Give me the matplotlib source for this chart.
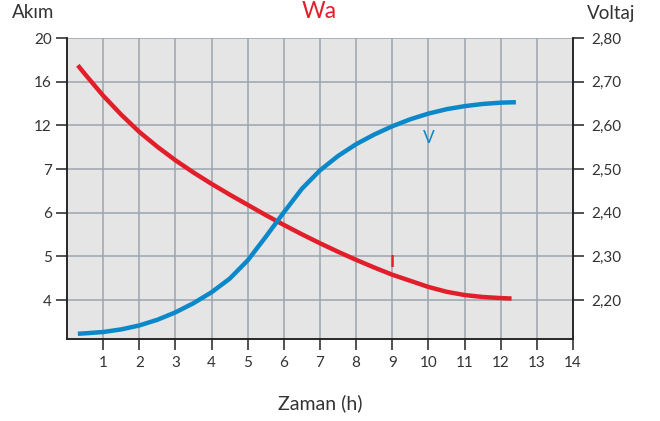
import numpy as np
import matplotlib
matplotlib.use("Agg")
import matplotlib.pyplot as plt

# ── Datos ─────────────────────────────────────────────────────────────────────
akim_ticks = [4, 5, 6, 7, 12, 16, 20]
voltaj_ticks = [2.20, 2.30, 2.40, 2.50, 2.60, 2.70, 2.80]
zaman_ticks = list(range(1, 15))

t_akim = [0.3, 0.5, 1, 1.5, 2, 2.5, 3, 3.5, 4, 4.5, 5, 5.5, 6, 6.5, 7, 7.5, 8,
          8.5, 9, 9.5, 10, 10.5, 11, 11.5, 12, 12.3]
akim = [17.5, 16.68, 14.72, 12.98, 11.25, 9.55, 8.0, 6.92, 6.66, 6.415, 6.18,
        5.945, 5.72, 5.505, 5.30, 5.105, 4.92, 4.745, 4.58, 4.44, 4.30, 4.19,
        4.115, 4.07, 4.045, 4.035]

t_volt = [0.3, 0.5, 1, 1.5, 2, 2.5, 3, 3.5, 4, 4.5, 5, 5.5, 6, 6.5, 7, 7.5, 8,
          8.5, 9, 9.5, 10, 10.5, 11, 11.5, 12, 12.42]
voltaj = [2.123, 2.124, 2.127, 2.133, 2.142, 2.155, 2.172, 2.193, 2.218, 2.249,
          2.291, 2.345, 2.401, 2.455, 2.497, 2.530, 2.557, 2.579, 2.598, 2.614,
          2.627, 2.637, 2.644, 2.649, 2.652, 2.653]

RED = "#e31e2b"
BLUE = "#0a88c9"
TXT = "#333333"
GRID = "#9ba5ad"

plt.rcParams["font.family"] = ["Lato", "DejaVu Sans"]

# escala no lineal del eje de corriente (ticks equiespaciados)
pos = np.arange(len(akim_ticks), dtype=float)

def fwd(v):
    v = np.asarray(v, dtype=float)
    return np.where(v < 4, v - 4, np.interp(v, akim_ticks, pos))

def inv(p):
    p = np.asarray(p, dtype=float)
    return np.where(p < 0, p + 4, np.interp(p, pos, akim_ticks))

fig = plt.figure(figsize=(6.6, 4.21), dpi=100)
ax = fig.add_axes([67 / 660, 1 - 339 / 421, (573 - 67) / 660, (339 - 38) / 421])
ax.set_facecolor("#e5e5e5")
ax.set_yscale("function", functions=(fwd, inv))
ax.set_ylim(3.108, 20)
ax.set_xlim(0, 14)
ax.set_yticks(akim_ticks)
ax.set_yticklabels([str(v) for v in akim_ticks])
ax.set_xticks(zaman_ticks)
ax.set_xticklabels([str(v) for v in zaman_ticks])
ax.minorticks_off()
ax.grid(True, color=GRID, lw=1.1)
ax.set_axisbelow(True)

ax2 = ax.twinx()
ax2.set_ylim(2.111, 2.80)
ax2.set_yticks(voltaj_ticks)
ax2.set_yticklabels([f"{v:.2f}".replace(".", ",") for v in voltaj_ticks])

for a in (ax, ax2):
    a.spines["top"].set_visible(False)
    for s in ("left", "right", "bottom"):
        a.spines[s].set_color("#222222")
        a.spines[s].set_linewidth(1.1)
    a.tick_params(colors="#222222", labelcolor=TXT, labelsize=11, length=8, width=1.1)
ax.tick_params(axis="y", pad=3)
ax.tick_params(axis="x", pad=4)
ax2.tick_params(axis="y", pad=5)

ax.plot(t_akim, akim, color=RED, lw=3.2, solid_capstyle="butt",
        solid_joinstyle="round", zorder=3)
ax2.plot(t_volt, voltaj, color=BLUE, lw=3.2, solid_capstyle="butt",
         solid_joinstyle="round", zorder=3)

ax.text(9, 4.87, "I", color=RED, fontsize=12.5, fontweight="bold", ha="center", va="center")
ax2.text(10, 2.571, "V", color=BLUE, fontsize=12.5, ha="center", va="center")

fig.text(319 / 660, 1 - 12 / 421, "Wa", color=RED, fontsize=16.5, ha="center", va="center")
fig.text(33 / 660, 1 - 13 / 421, "Akım", color=TXT, fontsize=13.5, ha="center", va="center")
fig.text(611 / 660, 1 - 13 / 421, "Voltaj", color=TXT, fontsize=13.5, ha="center", va="center")
fig.text(320 / 660, 1 - 403 / 421, "Zaman (h)", color=TXT, fontsize=14, ha="center", va="center")

fig.savefig("out.png", dpi=100)
